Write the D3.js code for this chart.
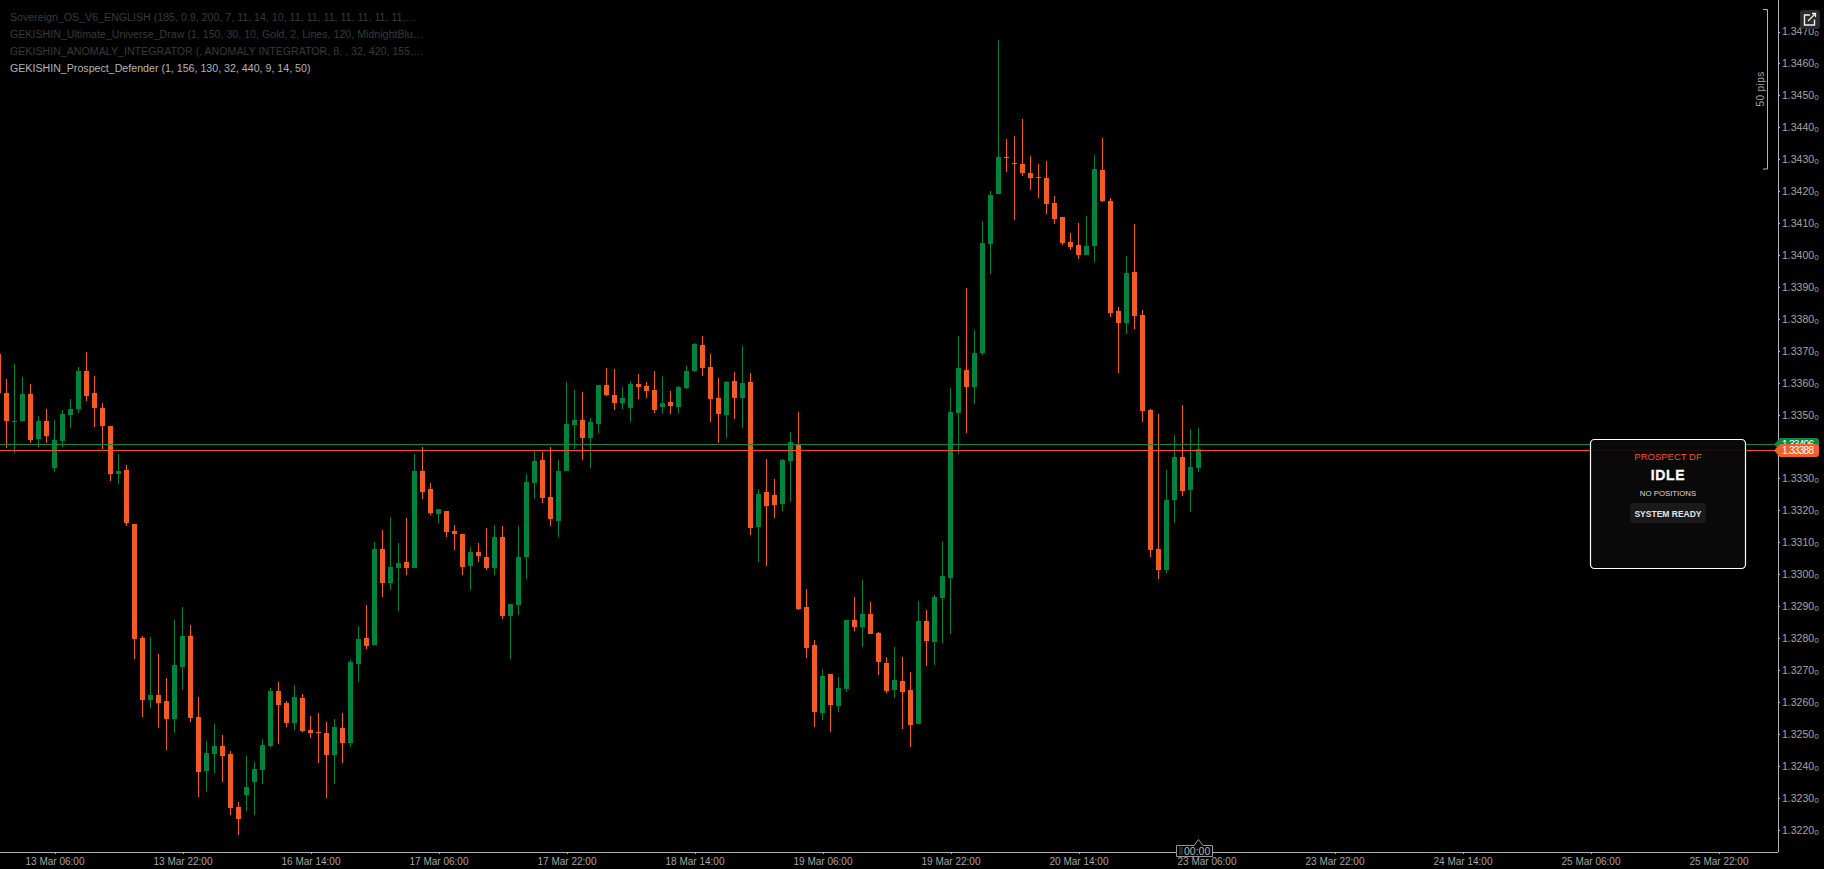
<!DOCTYPE html>
<html><head><meta charset="utf-8">
<script src="https://cdn.jsdelivr.net/npm/d3@7"></script>
<style>
html,body{margin:0;padding:0;background:#000;overflow:hidden}
svg{display:block;background:#000}
</style></head><body>
<svg id="chart" width="1824" height="869" font-family="Liberation Sans"></svg>
<script>
const opens=[1.33691,1.33568,1.33477,1.33480,1.33565,1.33424,1.33480,1.33333,1.33418,1.33499,
1.33517,1.33637,1.33568,1.33521,1.33465,1.33314,1.33327,1.33158,1.32801,1.32606,
1.32622,1.32603,1.32547,1.32710,1.32807,1.32554,1.32383,1.32437,1.32463,1.32437,
1.32271,1.32308,1.32350,1.32387,1.32463,1.32635,1.32597,1.32535,1.32613,1.32512,
1.32506,1.32503,1.32434,1.32519,1.32471,1.32720,1.32801,1.32779,1.33080,1.32973,
1.33020,1.33039,1.33020,1.33323,1.33267,1.33188,1.33198,1.33135,1.33126,1.33025,
1.33069,1.33054,1.33019,1.33116,1.32869,1.32903,1.33054,1.33285,1.33357,1.33242,
1.33166,1.33323,1.33467,1.33483,1.33426,1.33470,1.33592,1.33561,1.33536,1.33520,
1.33596,1.33589,1.33577,1.33524,1.33539,1.33524,1.33583,1.33636,1.33718,1.33649,
1.33552,1.33499,1.33605,1.33552,1.33602,1.33148,1.33257,1.33248,1.33220,1.33354,
1.33404,1.32897,1.32778,1.32566,1.32688,1.32588,1.32641,1.32857,1.32835,1.32876,
1.32816,1.32722,1.32638,1.32666,1.32638,1.32531,1.32854,1.32788,1.32926,1.32989,
1.33505,1.33640,1.33587,1.33693,1.34035,1.34191,1.34307,1.34288,1.34285,1.34257,
1.34245,1.34242,1.34163,1.34119,1.34041,1.34032,1.34000,1.34028,1.34267,1.34169,
1.33825,1.33787,1.33947,1.33812,1.33515,1.33079,1.33014,1.33233,1.33368,1.33264,1.33333];
const highs=[1.33691,1.33611,1.33659,1.33618,1.33597,1.33496,1.33517,1.33484,1.33514,1.33549,
1.33649,1.33696,1.33621,1.33536,1.33465,1.33377,1.33342,1.33158,1.32807,1.32804,
1.32750,1.32675,1.32857,1.32898,1.32841,1.32616,1.32478,1.32532,1.32497,1.32447,
1.32287,1.32431,1.32412,1.32484,1.32643,1.32662,1.32603,1.32653,1.32625,1.32557,
1.32565,1.32538,1.32547,1.32565,1.32731,1.32838,1.32905,1.33101,1.33139,1.33179,
1.33098,1.33176,1.33377,1.33398,1.33285,1.33204,1.33198,1.33154,1.33126,1.33085,
1.33098,1.33145,1.33154,1.33151,1.32906,1.33151,1.33314,1.33386,1.33383,1.33398,
1.33357,1.33602,1.33577,1.33570,1.33489,1.33592,1.33646,1.33642,1.33586,1.33605,
1.33627,1.33602,1.33636,1.33621,1.33574,1.33589,1.33652,1.33724,1.33746,1.33690,
1.33614,1.33605,1.33633,1.33715,1.33630,1.33267,1.33361,1.33298,1.33361,1.33445,
1.33508,1.32954,1.32794,1.32704,1.32688,1.32678,1.32857,1.32929,1.32982,1.32913,
1.32819,1.32741,1.32772,1.32741,1.32694,1.32917,1.32888,1.32935,1.33101,1.33584,
1.33747,1.33897,1.33765,1.34107,1.34201,1.34674,1.34364,1.34373,1.34426,1.34310,
1.34285,1.34295,1.34185,1.34119,1.34069,1.34101,1.34122,1.34314,1.34367,1.34179,
1.33837,1.33997,1.34097,1.33828,1.33518,1.33502,1.33327,1.33436,1.33530,1.33455,1.33458];
const lows=[1.33568,1.33394,1.33381,1.33477,1.33412,1.33399,1.33412,1.33321,1.33399,1.33458,
1.33506,1.33543,1.33461,1.33393,1.33292,1.33283,1.33152,1.32734,1.32554,1.32581,
1.32519,1.32450,1.32503,1.32638,1.32538,1.32302,1.32318,1.32378,1.32350,1.32246,
1.32184,1.32259,1.32246,1.32343,1.32460,1.32469,1.32522,1.32512,1.32506,1.32487,
1.32409,1.32299,1.32343,1.32409,1.32460,1.32662,1.32766,1.32779,1.32929,1.32951,
1.32886,1.32997,1.33020,1.33235,1.33185,1.33160,1.33116,1.33076,1.32997,1.32950,
1.33038,1.33013,1.32997,1.32859,1.32734,1.32872,1.32985,1.33235,1.33223,1.33151,
1.33116,1.33323,1.33392,1.33357,1.33332,1.33442,1.33558,1.33514,1.33517,1.33476,
1.33549,1.33552,1.33505,1.33505,1.33502,1.33505,1.33580,1.33633,1.33621,1.33476,
1.33411,1.33426,1.33486,1.33458,1.33123,1.33038,1.33025,1.33176,1.33198,1.33226,
1.32888,1.32737,1.32521,1.32544,1.32506,1.32569,1.32632,1.32823,1.32772,1.32813,
1.32685,1.32628,1.32613,1.32516,1.32459,1.32531,1.32713,1.32716,1.32785,1.32813,
1.33377,1.33443,1.33534,1.33687,1.33941,1.34191,1.34260,1.34110,1.34248,1.34204,
1.34179,1.34129,1.34097,1.34032,1.34016,1.33988,1.34000,1.33978,1.34166,1.33806,
1.33631,1.33753,1.33768,1.33477,1.33054,1.32985,1.33004,1.33161,1.33245,1.33195,1.33321];
const closes=[1.33568,1.33480,1.33480,1.33565,1.33421,1.33480,1.33433,1.33421,1.33503,1.33517,
1.33637,1.33559,1.33521,1.33465,1.33314,1.33324,1.33161,1.32798,1.32606,1.32622,
1.32597,1.32547,1.32716,1.32807,1.32551,1.32381,1.32441,1.32463,1.32431,1.32268,
1.32233,1.32334,1.32390,1.32466,1.32635,1.32591,1.32535,1.32616,1.32509,1.32503,
1.32503,1.32434,1.32522,1.32471,1.32726,1.32798,1.32776,1.33080,1.32973,1.33023,
1.33036,1.33020,1.33324,1.33257,1.33191,1.33204,1.33132,1.33126,1.33022,1.33069,
1.33057,1.33019,1.33116,1.32869,1.32906,1.33054,1.33289,1.33354,1.33238,1.33173,
1.33323,1.33470,1.33483,1.33426,1.33476,1.33592,1.33561,1.33536,1.33552,1.33596,
1.33586,1.33574,1.33514,1.33536,1.33527,1.33586,1.33636,1.33721,1.33646,1.33549,
1.33502,1.33602,1.33552,1.33599,1.33145,1.33251,1.33213,1.33217,1.33357,1.33414,
1.32891,1.32769,1.32568,1.32682,1.32591,1.32644,1.32857,1.32835,1.32876,1.32813,
1.32725,1.32635,1.32669,1.32632,1.32528,1.32854,1.32791,1.32929,1.32995,1.33508,
1.33646,1.33587,1.33693,1.34038,1.34188,1.34307,1.34304,1.34285,1.34257,1.34242,
1.34242,1.34160,1.34113,1.34038,1.34025,1.34000,1.34028,1.34270,1.34169,1.33819,
1.33787,1.33944,1.33809,1.33512,1.33076,1.33014,1.33233,1.33368,1.33261,1.33336,1.33393];

const priceTicks=[1.322,1.323,1.324,1.325,1.326,1.327,1.328,1.329,1.330,1.331,1.332,1.333,1.334,1.335,1.336,1.337,1.338,1.339,1.340,1.341,1.342,1.343,1.344,1.345,1.346,1.347];
const timeTickBars=[7,23,39,55,71,87,103,119,135,151,167,183,199,215];
const timeTickLabels=["13 Mar 06:00","13 Mar 22:00","16 Mar 14:00","17 Mar 06:00","17 Mar 22:00","18 Mar 14:00","19 Mar 06:00","19 Mar 22:00","20 Mar 14:00","23 Mar 06:00","23 Mar 22:00","24 Mar 14:00","25 Mar 06:00","25 Mar 22:00"];
const askPrice=1.33406, bidPrice=1.33388;
const legendLines=[
 {t:"Sovereign_OS_V6_ENGLISH (185, 0.9, 200, 7, 11, 14, 10, 11, 11, 11, 11, 11, 11, 11,…",c:"#3a3a3a"},
 {t:"GEKISHIN_Ultimate_Universe_Draw (1, 150, 30, 10, Gold, 2, Lines, 120, MidnightBlu…",c:"#3a3a3a"},
 {t:"GEKISHIN_ANOMALY_INTEGRATOR (, ANOMALY INTEGRATOR, 8, , 32, 420, 155,…",c:"#3a3a3a"},
 {t:"GEKISHIN_Prospect_Defender (1, 156, 130, 32, 440, 9, 14, 50)",c:"#b4b4b4"}];

const UP="#00843d",DOWN="#f35b22",AXIS="#b4b4b4",LABEL="#a6a6a6";
const svg=d3.select("#chart");
const x=d3.scaleLinear().domain([0,100]).range([-1.5,798.5]);
const y=d3.scaleLinear().domain([1.322,1.347]).range([829.7,31.5]);

const levels=[{p:askPrice,c:"#0b8a43"},{p:bidPrice,c:"#f4511e"}];
const g=svg.append("g");
const bars=d3.range(opens.length);
g.selectAll("line.w").data(bars).join("line").attr("class","w")
 .attr("x1",i=>x(i)).attr("x2",i=>x(i))
 .attr("y1",i=>Math.round(y(highs[i]))).attr("y2",i=>Math.round(y(lows[i])))
 .attr("stroke",i=>closes[i]>=opens[i]?UP:DOWN).attr("stroke-width",1).attr("shape-rendering","crispEdges");
g.selectAll("rect.b").data(bars).join("rect").attr("class","b")
 .attr("x",i=>x(i)-2.5).attr("width",5)
 .attr("y",i=>Math.round(y(Math.max(opens[i],closes[i]))))
 .attr("height",i=>Math.max(1,Math.round(y(Math.min(opens[i],closes[i])))-Math.round(y(Math.max(opens[i],closes[i])))))
 .attr("fill",i=>closes[i]>=opens[i]?UP:DOWN).attr("shape-rendering","crispEdges");
svg.selectAll("line.lvl").data(levels).join("line").attr("class","lvl")
 .attr("x1",0).attr("x2",1778).attr("y1",d=>Math.floor(y(d.p))+.5).attr("y2",d=>Math.floor(y(d.p))+.5)
 .attr("stroke",d=>d.c).attr("stroke-width",1).attr("shape-rendering","crispEdges");

const axR=svg.append("g").attr("transform","translate(1778,0)")
 .call(d3.axisRight(y).tickValues(priceTicks).tickSize(2).tickPadding(2).tickFormat(d3.format(".4f")));
axR.select(".domain").remove();
axR.selectAll(".tick line").attr("stroke",AXIS).attr("shape-rendering","crispEdges");
axR.selectAll(".tick text").attr("fill",LABEL).attr("font-size",10.5).attr("font-family","Liberation Sans").each(function(d){
  const t=d3.select(this);
  t.append("tspan").attr("font-size",8).attr("dy",1).text("0");
});
const axB=svg.append("g").attr("transform","translate(0,852)")
 .call(d3.axisBottom(x).tickValues(timeTickBars).tickSize(2).tickPadding(4).tickFormat((d,i)=>timeTickLabels[i]));
axB.select(".domain").remove();
axB.selectAll(".tick line").attr("stroke",AXIS).attr("shape-rendering","crispEdges");
axB.selectAll(".tick text").attr("fill",LABEL).attr("font-size",10).attr("font-family","Liberation Sans");
svg.append("line").attr("x1",0).attr("x2",1778).attr("y1",852.5).attr("y2",852.5).attr("stroke",AXIS).attr("shape-rendering","crispEdges");
svg.append("line").attr("x1",1778.5).attr("x2",1778.5).attr("y1",0).attr("y2",852).attr("stroke",AXIS).attr("shape-rendering","crispEdges");

svg.selectAll("text.lg").data(legendLines).join("text").attr("class","lg")
 .attr("x",10).attr("y",(d,i)=>21+17*i).attr("font-size",10.65).attr("fill",d=>d.c).text(d=>d.t);

svg.append("path").attr("d","M1763,9.5H1767.5V169H1763").attr("fill","none").attr("stroke",AXIS);
svg.append("text").attr("transform","translate(1764,89) rotate(-90)").attr("text-anchor","middle")
 .attr("font-size",10).attr("letter-spacing",.4).attr("fill",LABEL).text("50 pips");

const btn=svg.append("g").attr("transform","translate(1800,10)");
btn.append("rect").attr("width",20).attr("height",19).attr("rx",3).attr("fill","#2b2b2b");
btn.append("path").attr("d","M10,5H4.5V15H14.5V9.5").attr("fill","none").attr("stroke","#f0f0f0").attr("stroke-width",1.4);
btn.append("path").attr("d","M8,11L15.5,3.5M12,3.5H15.5V7").attr("fill","none").attr("stroke","#f0f0f0").attr("stroke-width",1.3);

function tag(p,c){
  const yy=Math.floor(y(p))+.5;
  const t=svg.append("g").attr("transform",`translate(0,${yy})`);
  t.append("path").attr("d","M1774,0L1780,-6.5H1816Q1819,-6.5 1819,-3.5V3.5Q1819,6.5 1816,6.5H1780Z").attr("fill",c);
  t.append("text").attr("x",1782).attr("y",3.5).attr("font-size",10).attr("textLength",32).attr("fill","#fff").text(d3.format(".5f")(p));
}
tag(askPrice,"#0b8a43");tag(bidPrice,"#f4602a");

const panel=svg.append("g");
panel.append("rect").attr("x",1590.5).attr("y",439.5).attr("width",155).attr("height",129).attr("rx",4)
 .attr("fill","#0a0a0a").attr("fill-opacity",.93).attr("stroke","#fff").attr("stroke-width",1.2);
const cx=1668;
panel.append("text").attr("x",cx).attr("y",459.5).attr("text-anchor","middle").attr("font-size",9.5)
 .attr("fill","#f4511e").text("PROSPECT DF");
panel.append("text").attr("x",cx).attr("y",480).attr("text-anchor","middle").attr("font-size",14).attr("font-weight",700)
 .attr("letter-spacing",.6).attr("stroke","#fff").attr("stroke-width",.3).attr("fill","#fff").text("IDLE");
panel.append("text").attr("x",cx).attr("y",496).attr("text-anchor","middle").attr("font-size",7.8)
 .attr("fill","#ddd").text("NO POSITIONS");
panel.append("rect").attr("x",1630).attr("y",503).attr("width",76).attr("height",20).attr("rx",2).attr("fill","#1a1a1a");
panel.append("text").attr("x",cx).attr("y",516.5).attr("text-anchor","middle").attr("font-size",8.5).attr("font-weight",700)
 .attr("fill","#e6e6e6").text("SYSTEM READY");

const cd=svg.append("g");
cd.append("path").attr("d","M1176.5,845.5H1194L1198.5,839.5L1203,845.5H1212.5V856.5H1176.5Z").attr("fill","#000").attr("stroke","#9a9a9a");
cd.selectAll("rect").data([[0,0],[2,0],[0,2],[2,2],[0,4],[2,4],[0,6],[2,6]]).join("rect")
 .attr("x",d=>1179.5+d[0]).attr("y",d=>847.5+d[1]).attr("width",1).attr("height",1).attr("fill","#9a9a9a");
cd.append("text").attr("x",1184).attr("y",855).attr("font-size",10.5).attr("fill","#b8b8b8").text("00:00");
</script>
</body></html>
